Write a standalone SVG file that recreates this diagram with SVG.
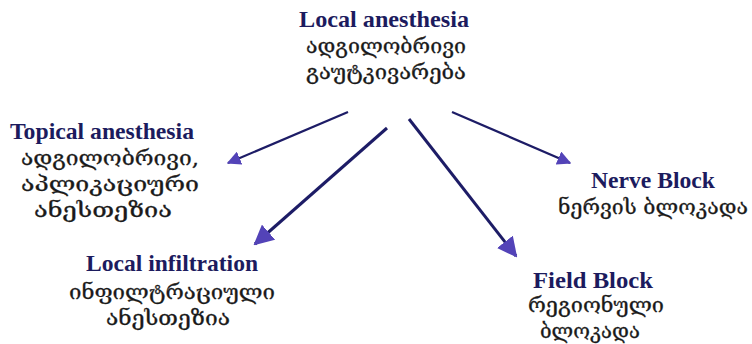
<svg xmlns="http://www.w3.org/2000/svg" width="752" height="344" viewBox="0 0 752 344">
<defs>
<style>
.t{font-family:"Liberation Serif","Times New Roman",serif;font-weight:bold;font-size:24px;fill:#1c1b5e;text-anchor:middle}
.g{font-family:"DejaVu Serif","DejaVu Sans",serif;font-size:21px;fill:#1a1a1a;text-anchor:middle;stroke:#1a1a1a;stroke-width:0.3}
.ln{stroke:#1d1c66;fill:none}
</style>
<marker id="ah" viewBox="0 0 10 10" refX="9" refY="5" markerUnits="userSpaceOnUse" markerWidth="14" markerHeight="14" orient="auto">
<path d="M0,0 L10,5 L0,10 Z" fill="#5343b8"/>
</marker>
<marker id="ahL" viewBox="0 0 10 10" refX="9" refY="5" markerUnits="userSpaceOnUse" markerWidth="20" markerHeight="20" orient="auto">
<path d="M0,0 L10,5 L0,10 Z" fill="#5343b8"/>
</marker>
</defs>
<rect width="752" height="344" fill="#ffffff"/>
<g id="connectors">
<line class="ln" x1="348" y1="112" x2="228" y2="163" stroke-width="2.2" marker-end="url(#ah)"/>
<line class="ln" x1="387" y1="128" x2="255" y2="244" stroke-width="3" marker-end="url(#ahL)"/>
<line class="ln" x1="409" y1="119" x2="516" y2="256" stroke-width="3" marker-end="url(#ahL)"/>
<line class="ln" x1="452" y1="112" x2="570" y2="163" stroke-width="2.2" marker-end="url(#ah)"/>
</g>
<g id="local-anesthesia">
<text class="t" x="384" y="27" textLength="170" lengthAdjust="spacingAndGlyphs">Local anesthesia</text>
<text class="g" x="386" y="53" textLength="160" lengthAdjust="spacingAndGlyphs">ადგილობრივი</text>
<text class="g" x="386" y="79" textLength="160" lengthAdjust="spacingAndGlyphs">გაუტკივარება</text>
</g>
<g id="topical-anesthesia">
<text class="t" x="102" y="139" textLength="184" lengthAdjust="spacingAndGlyphs">Topical anesthesia</text>
<text class="g" x="110" y="165" textLength="178" lengthAdjust="spacingAndGlyphs">ადგილობრივი,</text>
<text class="g" x="110" y="191" textLength="178" lengthAdjust="spacingAndGlyphs">აპლიკაციური</text>
<text class="g" x="103" y="217" textLength="138" lengthAdjust="spacingAndGlyphs">ანესთეზია</text>
</g>
<g id="nerve-block">
<text class="t" x="653" y="188" textLength="124" lengthAdjust="spacingAndGlyphs">Nerve Block</text>
<text class="g" x="653" y="214" textLength="190" lengthAdjust="spacingAndGlyphs">ნერვის ბლოკადა</text>
</g>
<g id="local-infiltration">
<text class="t" x="172" y="271" textLength="172" lengthAdjust="spacingAndGlyphs">Local infiltration</text>
<text class="g" x="172" y="299" textLength="206" lengthAdjust="spacingAndGlyphs">ინფილტრაციული</text>
<text class="g" x="168" y="325" textLength="124" lengthAdjust="spacingAndGlyphs">ანესთეზია</text>
</g>
<g id="field-block">
<text class="t" x="593" y="288" textLength="120" lengthAdjust="spacingAndGlyphs">Field Block</text>
<text class="g" x="596" y="312" textLength="136" lengthAdjust="spacingAndGlyphs">რეგიონული</text>
<text class="g" x="590" y="338" textLength="100" lengthAdjust="spacingAndGlyphs">ბლოკადა</text>
</g>
</svg>
